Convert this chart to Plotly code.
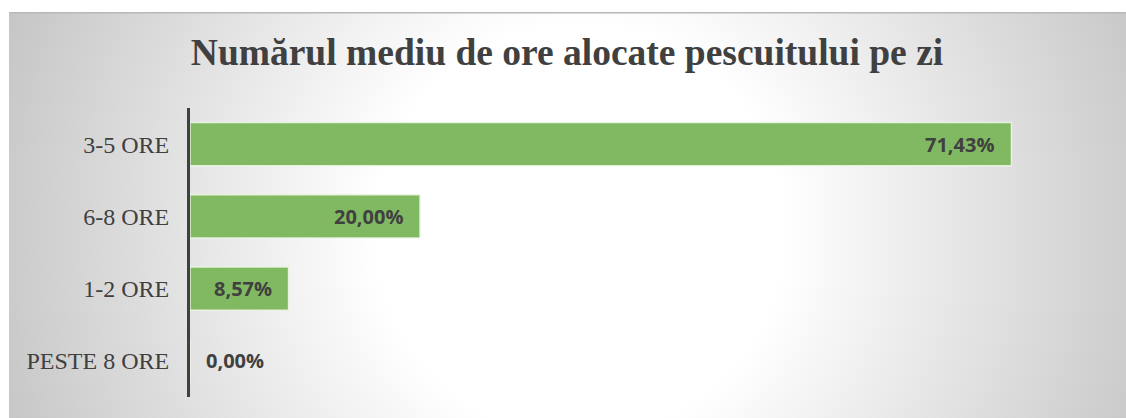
import base64
import plotly.graph_objects as go

categories = ["3-5 ORE", "6-8 ORE", "1-2 ORE", "PESTE 8 ORE"]
values = [71.43, 20.00, 8.57, 0.00]
labels = ["71,43%", "20,00%", "8,57%", "0,00%"]
title_text = "Numărul mediu de ore alocate pescuitului pe zi"

W, H = 1126, 418
ML, MR, MT, MB = 190, 16, 108, 21
pw, ph = W - ML - MR, H - MT - MB

# background box (radial gradient), in figure pixel coords
bx0, by0, bx1, by1 = 9, 12, W, H
bw, bh = bx1 - bx0, by1 - by0
gcx, gcy = 580, 230
svg = f'''<svg xmlns="http://www.w3.org/2000/svg" width="{bw}" height="{bh}" viewBox="0 0 {bw} {bh}" preserveAspectRatio="none">
<defs><radialGradient id="g" gradientUnits="userSpaceOnUse" cx="{gcx-bx0}" cy="{gcy-by0}" r="680">
<stop offset="0" stop-color="#ffffff"/><stop offset="0.3" stop-color="#ffffff"/><stop offset="1" stop-color="#bcbcbc"/>
</radialGradient></defs>
<rect x="0" y="0" width="{bw}" height="{bh}" fill="url(#g)"/>
<rect x="0" y="0" width="{bw}" height="1.5" fill="#b8b8b8"/>
</svg>'''
src = "data:image/svg+xml;base64," + base64.b64encode(svg.encode()).decode()

def px_to_paper_x(px):
    return (px - ML) / pw

def py_to_paper_y(py):
    return (H - MB - py) / ph

fig = go.Figure()
fig.add_trace(go.Bar(
    y=categories, x=values, orientation="h",
    marker=dict(color="#80b962", line=dict(color="rgba(235,245,228,0.9)", width=1.5)),
    hoverinfo="skip", showlegend=False,
))

lab_font = dict(family="Open Sans", size=20, color="#404040", weight="bold")
annotations = []
for c, v, t in zip(categories, values, labels):
    if v > 0:
        annotations.append(dict(x=v, y=c, xref="x", yref="y", text=t, showarrow=False,
                                xanchor="right", yanchor="middle", xshift=-15, font=lab_font))
    else:
        annotations.append(dict(x=v, y=c, xref="x", yref="y", text=t, showarrow=False,
                                xanchor="left", yanchor="middle", xshift=14, font=lab_font))

fig.update_layout(
    width=W, height=H,
    margin=dict(l=ML, r=MR, t=MT, b=MB, pad=0),
    paper_bgcolor="white",
    plot_bgcolor="rgba(0,0,0,0)",
    bargap=0.40,
    title=dict(text=f"<b>{title_text}</b>", xref="container", yref="container",
               x=567 / W, y=1 - 52 / H, xanchor="center", yanchor="middle",
               font=dict(family="Liberation Serif", size=37.5, color="#404040")),
    xaxis=dict(range=[0, 80], visible=False, fixedrange=True),
    yaxis=dict(categoryorder="array", categoryarray=categories, autorange="reversed",
               showline=True, linecolor="#404040", linewidth=3, showgrid=False,
               ticks="", ticklabelstandoff=13, fixedrange=True,
               tickfont=dict(family="Liberation Serif", size=24, color="#404040")),
    annotations=annotations,
    images=[dict(source=src, xref="paper", yref="paper",
                 x=px_to_paper_x(bx0), y=py_to_paper_y(by0),
                 sizex=bw / pw, sizey=bh / ph, xanchor="left", yanchor="top",
                 sizing="stretch", layer="below")],
)

fig.write_html("out.html", config={"displayModeBar": False},
               post_script="document.body.style.margin='0';document.body.style.overflow='hidden';")
